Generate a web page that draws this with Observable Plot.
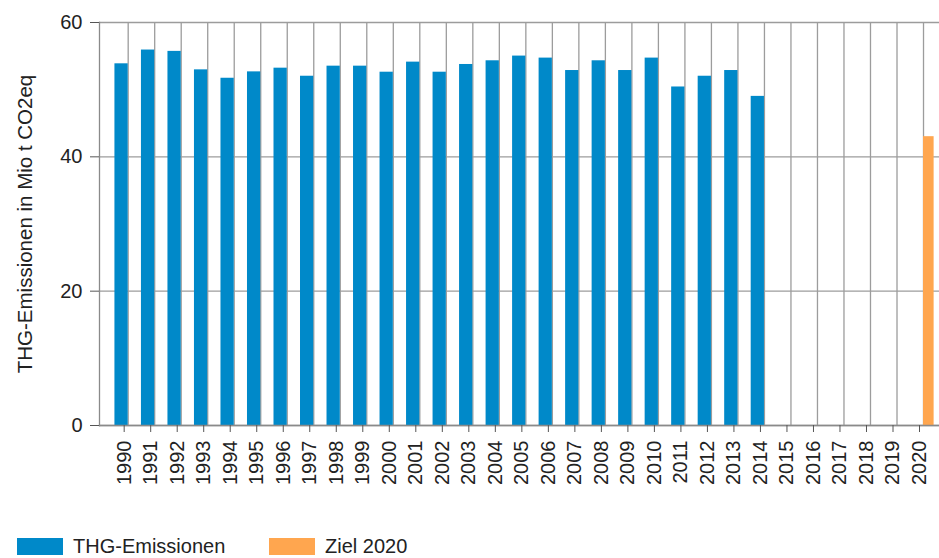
<!DOCTYPE html>
<html>
<head>
<meta charset="utf-8">
<script src="https://cdn.jsdelivr.net/npm/d3@7"></script>
<script src="https://cdn.jsdelivr.net/npm/@observablehq/plot@0.6"></script>
<style>
  html, body { margin: 0; padding: 0; background: #fff; }
  #wrap { position: relative; width: 939px; height: 558px; font-family: "Liberation Sans", Arial, sans-serif; }
  .legend { position: absolute; left: 0; top: 525px; height: 33px; width: 939px; }
  .item { position: absolute; top: 13px; display: flex; align-items: center; font-size: 20px; color: #222; line-height: 17px; }
  .sw { width: 46px; height: 17px; margin-right: 10px; }
</style>
</head>
<body>
<div id="wrap"></div>
<script>
const years = [1990, 1991, 1992, 1993, 1994, 1995, 1996, 1997, 1998, 1999, 2000, 2001, 2002,
               2003, 2004, 2005, 2006, 2007, 2008, 2009, 2010, 2011, 2012, 2013, 2014];
const emissions = [53.85, 55.9, 55.7, 52.95, 51.7, 52.65, 53.2, 52.0, 53.5, 53.5, 52.6, 54.1, 52.6,
                   53.75, 54.3, 55.0, 54.7, 52.85, 54.3, 52.85, 54.7, 50.4, 52.0, 52.85, 49.0];
const targetYears = [2020];
const targetValues = [43];
const xTickLabels = d3.range(1990, 2021);
const yTickLabels = [0, 20, 40, 60];
const seriesNames = ["THG-Emissionen", "Ziel 2020"];
const seriesColors = ["#0089c9", "#ffa64f"];
const yLabel = "THG-Emissionen in Mio t CO2eq";

const emissionData = years.map((year, i) => ({year, value: emissions[i]}));
const targetData = targetYears.map((year, i) => ({year, value: targetValues[i]}));

const gridStyle = {stroke: "#9c9c9c", strokeOpacity: 1, strokeWidth: 1.3};

const chart = Plot.plot({
  width: 939,
  height: 525,
  marginLeft: 99,
  marginRight: 0,
  marginTop: 22,
  marginBottom: 100,
  style: {fontFamily: "'Liberation Sans', Arial, sans-serif", fontSize: "20px", color: "#222", background: "#fff"},
  x: {type: "linear", domain: [1988.918, 2020.603], axis: null},
  y: {domain: [0, 60], axis: null},
  marks: [
    Plot.gridX(xTickLabels, gridStyle),
    Plot.gridY(yTickLabels, gridStyle),
    Plot.rectY(emissionData, {x1: d => d.year - 0.5, x2: "year", y: "value", fill: seriesColors[0]}),
    Plot.rectY(targetData, {x1: "year", x2: d => d.year + 0.4, y: "value", fill: seriesColors[1]}),
    Plot.frame({anchor: "left", stroke: "#8a8a8a", strokeWidth: 1.3}),
    Plot.frame({anchor: "bottom", stroke: "#8a8a8a", strokeWidth: 1.3}),
    Plot.axisY({ticks: yTickLabels, tickSize: 9, tickPadding: 8, label: null, tickFormat: d => String(d), stroke: "#555"}),
    Plot.axisX({ticks: xTickLabels, tickSize: 7, tickPadding: 8, tickRotate: -90, label: null,
                tickFormat: d => String(d), stroke: "#555", dx: -4}),
    Plot.text([yLabel], {frameAnchor: "left", textAnchor: "middle", rotate: -90, dx: -74, fontSize: 20.5, fill: "#222"})
  ]
});

const wrap = document.getElementById("wrap");
wrap.appendChild(chart);

const legend = document.createElement("div");
legend.className = "legend";
const lefts = [17, 269];
seriesNames.forEach((name, i) => {
  const it = document.createElement("div");
  it.className = "item";
  it.style.left = lefts[i] + "px";
  const sw = document.createElement("span");
  sw.className = "sw";
  sw.style.background = seriesColors[i];
  const tx = document.createElement("span");
  tx.textContent = name;
  it.appendChild(sw);
  it.appendChild(tx);
  legend.appendChild(it);
});
wrap.appendChild(legend);
</script>
</body>
</html>
